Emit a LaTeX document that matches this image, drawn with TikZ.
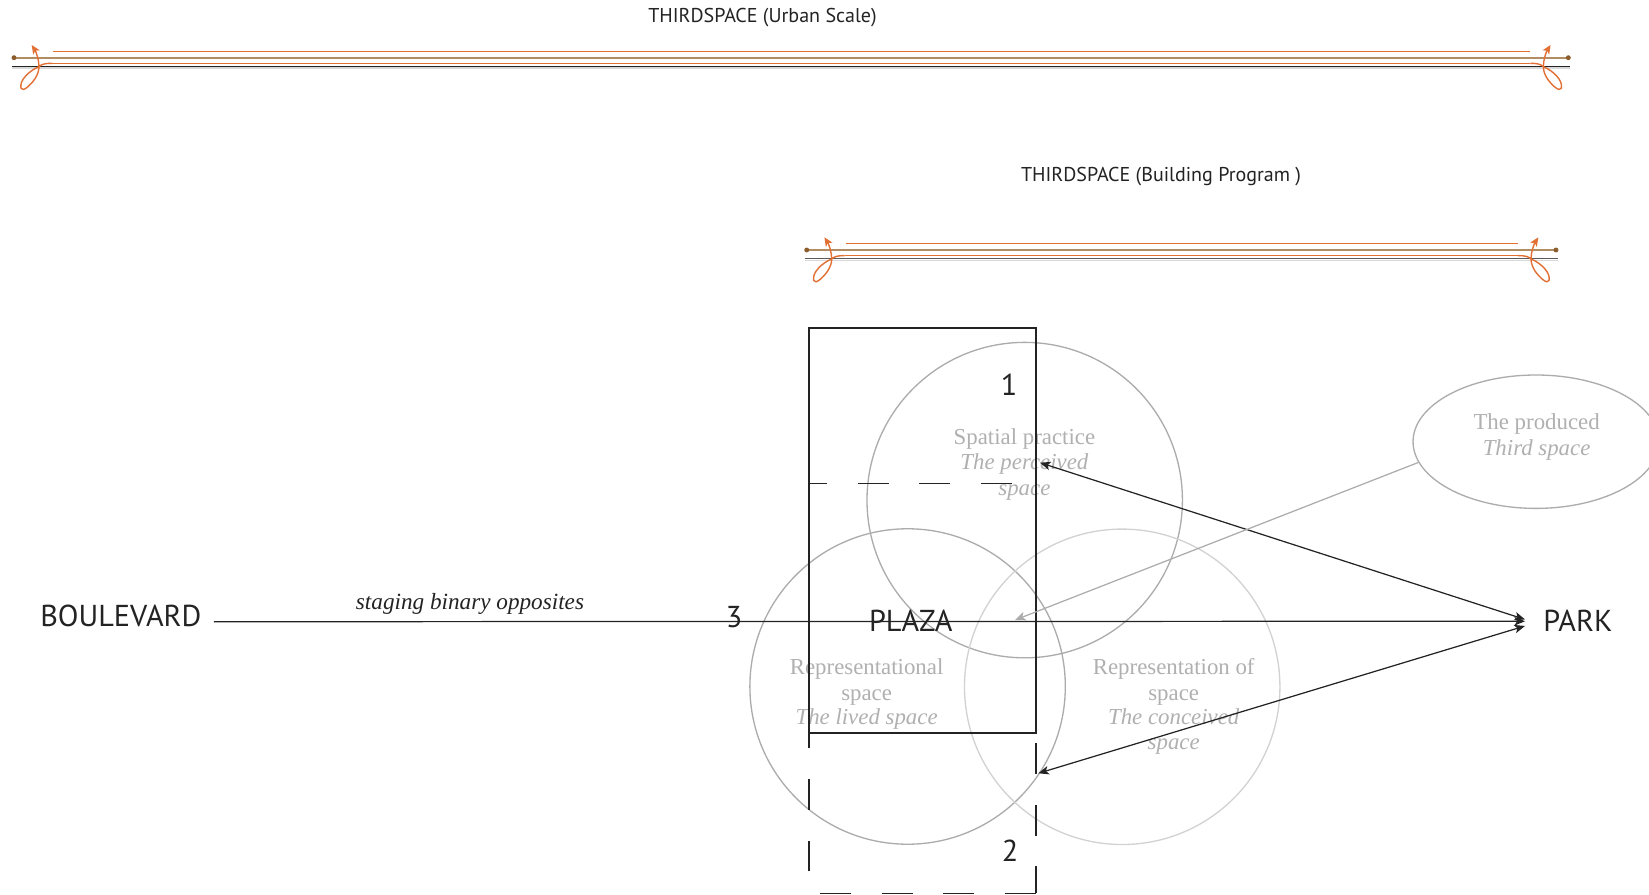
\documentclass[tikz,border=0pt]{standalone}
\usepackage{fontspec}
\setmainfont{Liberation Serif}
\newfontfamily\sansf{PT Sans}
\usetikzlibrary{shapes.geometric,arrows.meta,calc}
\definecolor{barbrown}{RGB}{178,140,98}
\definecolor{dotbrown}{RGB}{140,92,45}
\definecolor{barorange}{RGB}{226,112,52}
\definecolor{ringgrey}{RGB}{172,172,172}
\definecolor{ringlight}{RGB}{210,210,210}
\definecolor{txtgrey}{RGB}{176,176,176}
\definecolor{ink}{RGB}{35,35,35}

\newcommand\barend{%
  \fill[dotbrown] (0,0) circle[radius=1.4pt];
  \draw[barorange, line width=0.8pt, -{Stealth[length=5pt,width=4.4pt,inset=1.2pt]}]
    (38,5.6) .. controls (31,5.6) and (27.5,6.5) .. (25,9)
    .. controls (15,13) and (5,23) .. (7,30.5)
    .. controls (8.5,35) and (17,27) .. (21,21)
    .. controls (23.5,17) and (25,13) .. (25,9)
    .. controls (25,2) and (22,-6) .. (17.7,-12.7);
}
\newcommand\thirdbar[4]{%
  \draw[barbrown, line width=1.1pt] (#1,#3) -- (#2,#3);
  \draw[gray!30, line width=0.6pt] ({#1-2},{#3+10.3}) -- ({#2+2},{#3+10.3});
  \draw[#4, line width=0.7pt] ({#1-2},{#3+8.5}) -- ({#2+2},{#3+8.5});
  \draw[barorange, line width=0.7pt] ({#1+39},{#3-6.5}) -- ({#2-38.5},{#3-6.5});
  \draw[barorange, line width=0.75pt] ({#1+38},{#3+5.6}) -- ({#2-38},{#3+5.6});
  \begin{scope}[shift={(#1,#3)}]\barend\end{scope}
  \begin{scope}[shift={(#2,#3)},xscale=-1]\barend\end{scope}
}

\begin{document}
\begin{tikzpicture}[x=0.02cm,y=-0.02cm,
  >={Stealth[length=6pt,width=4.8pt,inset=1.5pt]},
  big/.style={font=\sansf\fontsize{17.2}{19}\selectfont, text=ink, inner sep=0},
  small/.style={font=\sansf\fontsize{11.4}{13}\selectfont, text=ink, inner sep=0},
  gt/.style={font=\fontsize{13}{15}\selectfont, text=txtgrey, inner sep=0, anchor=base},
  gti/.style={gt, font=\fontsize{13}{15}\selectfont\itshape},
  ring/.style={circle, minimum size=6.31cm, inner sep=0, line width=0.75pt},
  frame/.style={draw=ink, line width=0.9pt},
  dashframe/.style={frame, dash pattern=on 17.57pt off 17.57pt},
  conn/.style={draw=ink, line width=0.7pt}
]
\useasboundingbox (0,0) rectangle (1649,895);
\fill[white] (0,0) rectangle (1649,895);
\clip (0,0) rectangle (1649,895);

% top bars
\node[small, anchor=base] (urban) at (762.5,23) {THIRDSPACE (Urban Scale)};
\thirdbar{14}{1568.3}{57.7}{ink}
\node[small, anchor=base] (bldg) at (1161,182) {THIRDSPACE (Building Program )};
\thirdbar{806.7}{1556}{250}{ink!75}

% circles
\node[ring, draw=ringgrey] (c1) at (1024.7,500.1) {};
\node[ring, draw=ringgrey] (c2) at (907.6,686.5) {};
\node[ring, draw=ringlight] (c3) at (1122.2,686.8) {};

\node[gt] (t1a) at (1024.4,444.5) {Spatial practice};
\node[gti] (t1b) at (1024.4,469.7) {The perceived};
\node[gti] (t1c) at (1024.4,495) {space};

\node[gt] (t2a) at (866.6,674.8) {Representational};
\node[gt] (t2b) at (866.6,700) {space};
\node[gti] (t2c) at (866.6,724.2) {The lived space};

\node[gt] (t3a) at (1173.7,674.8) {Representation of};
\node[gt] (t3b) at (1173.7,700) {space};
\node[gti] (t3c) at (1173.7,724.2) {The conceived};
\node[gti] (t3d) at (1173.7,749.4) {space};

% ellipse
\node[ellipse, draw=ringgrey, line width=0.75pt, minimum width=4.92cm, minimum height=2.668cm, inner sep=0] (ell) at (1536,441.7) {};
\node[gt] (tea) at (1536.6,429.7) {The produced};
\node[gti] (teb) at (1536.6,455) {Third space};

% rectangles
\draw[frame] (809,328) rectangle (1036,733);
\draw[dashframe] (1036,893.3) -- (809,893.3);
\draw[dashframe, dash phase=22.7pt] (809,893.3) -- (809,483.3);
\draw[dashframe, dash phase=7.4pt] (809,483.3) -- (1036,483.3);
\draw[dashframe, dash phase=2.3pt] (1036,893.3) -- (1036,483.3);

% labels
\node[big, anchor=base west] (boul) at (40,626.7) {BOULEVARD};
\node[big, anchor=base west] (park) at (1543,631.7) {PARK};
\node[big, anchor=base] (plaza) at (910.8,631.7) {PLAZA};
\node[big, anchor=base] (n3) at (734,627.7) {3};
\node[big, anchor=base] (n1) at (1009,395) {1};
\node[big, anchor=base] (n2) at (1010,861.7) {2};
\node[anchor=base, inner sep=0, text=ink, font=\fontsize{13.2}{15}\selectfont\itshape] (stage) at (470,609) {staging binary opposites};

% connectors
\coordinate (sp) at (1040,462.7);
\coordinate (cs) at (1038.3,773.3);
\coordinate (pz) at (1015,620);
\draw[conn, ->] ($(boul.base east)+(12,-5)$) -- ($(park.west)+(-18,0.3)$);
\draw[conn, <->] (sp) -- ($(park.west)+(-18,-1.5)$);
\draw[conn, <->] (cs) -- ($(park.west)+(-18,5)$);
\draw[draw=ringgrey, line width=0.7pt, -{Stealth[length=6pt,width=5pt,inset=1.5pt]}] (ell.190) -- (pz);
\end{tikzpicture}
\end{document}
